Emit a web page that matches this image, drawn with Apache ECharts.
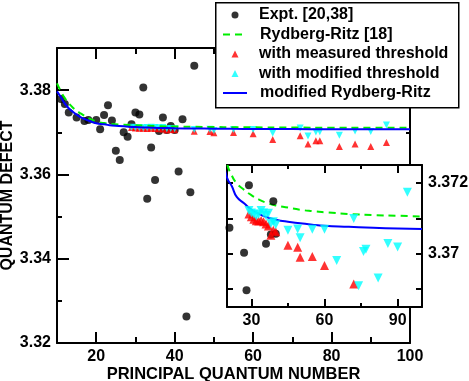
<!DOCTYPE html>
<html>
<head>
<meta charset="utf-8">
<script src="https://cdn.jsdelivr.net/npm/echarts@6/dist/echarts.min.js"></script>
<style>
  html, body { margin: 0; padding: 0; background: #fff; }
  #chart { width: 469px; height: 381px; }
</style>
</head>
<body>
<div id="chart"></div>
<script>
// experimental points
var exptN = [11, 12, 13, 15, 17, 18, 20, 21, 22, 23, 24, 25, 26, 27, 28, 29, 30, 31, 32, 33,
             34, 35, 36, 37, 38, 39, 40, 41, 42, 43, 44, 45];
var exptDefect = [3.3779, 3.3767, 3.3747, 3.3735, 3.3727, 3.3729, 3.3729, 3.37073, 3.3741, 3.3764,
                  3.3728, 3.3656, 3.3634, 3.37003, 3.36897, 3.37193, 3.3747, 3.3742, 3.3806, 3.3542,
                  3.3664, 3.3587, 3.37028, 3.3735, 3.37054, 3.37148, 3.37056, 3.3607, 3.3731, 3.3263,
                  3.3558, 3.3858];

// computed with the two thresholds
var thrN = [29, 30, 31, 32, 33, 34, 35, 36, 37, 38, 39, 40, 45, 49, 50, 55, 60, 65, 72, 74, 76, 77, 82, 86, 90, 94];
var measuredDefect = [3.37112, 3.37104, 3.37097, 3.37093, 3.37092, 3.37094, 3.37090, 3.37084, 3.37078, 3.37052,
                      3.37066, 3.37062, 3.37024, 3.37018, 3.36990, 3.36992, 3.36967, 3.3683, 3.36915, 3.3672,
                      3.3680, 3.3680, 3.3666, 3.3672, 3.3666, 3.3676];
var modifiedDefect = [3.37122, 3.37115, 3.37112, 3.37106, 3.37111, 3.37122, 3.37115, 3.37108, 3.37114, 3.37085,
                      3.37090, 3.37082, 3.37066, 3.37070, 3.37045, 3.37069, 3.37069, 3.36981, 3.37099, 3.36910,
                      3.37006, 3.37013, 3.36932, 3.37029, 3.37019, 3.37173];

// curves
var curveN = [10, 11, 12, 13, 14, 15, 16, 18, 20, 22, 24, 27, 30, 33, 36, 40, 45, 50, 55, 60, 70, 80, 90, 100];
var rydbergRitz = [3.3816, 3.3797, 3.3781, 3.3769, 3.3759, 3.3751, 3.3745, 3.3734, 3.37255, 3.3722, 3.37198, 3.37180,
                   3.37165, 3.37153, 3.37144, 3.37136, 3.37130, 3.37124, 3.37120, 3.37117, 3.37112, 3.37109, 3.37107, 3.37105];
var modifiedRR = [3.3797, 3.3783, 3.3768, 3.3757, 3.3749, 3.3742, 3.3736, 3.3728, 3.37215, 3.3719, 3.3716, 3.37142,
                  3.37124, 3.37113, 3.37104, 3.37096, 3.37090, 3.37086, 3.37082, 3.37079, 3.37076, 3.37073, 3.37071, 3.37070];

// tick positions
var mainXMajor = [20, 40, 60, 80, 100], mainXMinor = [30, 50, 70, 90];
var mainYMajor = [3.32, 3.34, 3.36, 3.38], mainYMinor = [3.33, 3.35, 3.37];
var insetXMajor = [30, 60, 90], insetXMinor = [45, 75];
var insetYTicks = [3.369, 3.370, 3.371, 3.372], insetYLabels = [3.370, 3.372];

var names = ['Expt. [20,38]', 'Rydberg-Ritz [18]', 'with measured threshold', 'with modified threshold', 'modified Rydberg-Ritz'];

var FONT = 'Liberation Sans';

function pairs(xs, ys) {
    return xs.map(function (x, i) { return [x, ys[i]]; });
}

function edge(grid, pos, min, max, ticks, len, line, labels, fmt, z) {
    return {
        type: 'value', gridIndex: grid, position: pos, min: min, max: max, z: z || 0,
        splitLine: { show: false },
        axisLine: { show: line, onZero: false, lineStyle: { color: '#000', width: 2 } },
        axisTick: { show: true, inside: true, length: len, customValues: ticks, lineStyle: { color: '#000', width: 2 } },
        axisLabel: labels ? {
            show: true, customValues: labels, formatter: fmt, color: '#000',
            fontFamily: FONT, fontWeight: 'bold', fontSize: 16, margin: 6
        } : { show: false }
    };
}

// one legend per row so line and marker icons can have their own sizes
function legendRow(i, isLine) {
    var centre = 15 + i * 19.5;
    return {
        orient: 'vertical', top: centre - 9, padding: 0, z: 4,
        itemHeight: isLine ? 8 : 7, itemWidth: isLine ? 24 : 7,
        left: isLine ? 222 : 231.5,
        textStyle: { fontFamily: FONT, fontWeight: 'bold', fontSize: 16, color: '#000', lineHeight: 18,
                     padding: [0, 0, 0, isLine ? 8 : 15.5] },
        data: [isLine ? { name: names[i], itemStyle: { opacity: 0 } } : names[i]]
    };
}

var chart = echarts.init(document.getElementById('chart'));

var xMain = edge(0, 'bottom', 10, 100, mainXMajor, 11, true, mainXMajor, function (v) { return String(v); });
xMain.name = 'PRINCIPAL QUANTUM NUMBER';
xMain.nameLocation = 'middle';
xMain.nameGap = 23;
xMain.nameMoveOverlap = false;
xMain.nameTextStyle = { fontFamily: FONT, fontWeight: 'bold', fontSize: 16.5, color: '#000' };

var yMain = edge(0, 'left', 3.32, 3.39, mainYMajor, 12, true, mainYMajor, function (v) { return v.toFixed(2); });
yMain.name = 'QUANTUM DEFECT';
yMain.nameLocation = 'middle';
yMain.nameGap = 41;
yMain.nameMoveOverlap = false;
yMain.nameTextStyle = { fontFamily: FONT, fontWeight: 'bold', fontSize: 16, color: '#000' };

var insetFmt = function (v) { return String(+v.toFixed(3)); };

var dotStyle = { color: '#000' };
var redStyle = { color: '#ff0000' };
var cyanStyle = { color: '#00ffff' };
var greenLine = { color: '#00ee00', width: 2, type: [7, 5] };
var blueLine = { color: '#0000ff', width: 2 };

chart.setOption({
    animation: false,
    backgroundColor: '#fff',
    grid: [
        { left: 57, top: 48, width: 353, height: 295, outerBoundsMode: 'none' },
        { left: 227, top: 165, width: 195, height: 142, outerBoundsMode: 'none',
          show: true, backgroundColor: '#fff', borderWidth: 0, z: 5 }
    ],
    graphic: [{
        type: 'rect', left: 215, top: 2, z: 3,
        shape: { width: 243, height: 105 },
        style: { fill: '#fff', stroke: '#000', lineWidth: 1.5 }
    }],
    legend: [
        legendRow(0, false),
        legendRow(1, true),
        legendRow(2, false),
        legendRow(3, false),
        legendRow(4, true)
    ],
    xAxis: [
        xMain,
        edge(0, 'bottom', 10, 100, mainXMinor, 6, false),
        edge(0, 'top', 10, 100, mainXMajor, 11, true),
        edge(0, 'top', 10, 100, mainXMinor, 6, false),
        edge(1, 'bottom', 20, 100, insetXMajor, 8, true, insetXMajor, function (v) { return String(v); }, 6),
        edge(1, 'bottom', 20, 100, insetXMinor, 4, false, null, null, 6),
        edge(1, 'top', 20, 100, insetXMajor, 8, true, null, null, 6),
        edge(1, 'top', 20, 100, insetXMinor, 4, false, null, null, 6)
    ],
    yAxis: [
        yMain,
        edge(0, 'left', 3.32, 3.39, mainYMinor, 5, false),
        edge(0, 'right', 3.32, 3.39, mainYMajor, 12, true),
        edge(0, 'right', 3.32, 3.39, mainYMinor, 4, false),
        edge(1, 'right', 3.3685, 3.3725, insetYTicks, 6, true, insetYLabels, insetFmt, 6),
        edge(1, 'left', 3.3685, 3.3725, insetYTicks, 6, true, null, null, 6)
    ],
    series: [
        { name: names[0], type: 'scatter', xAxisIndex: 0, yAxisIndex: 0, symbol: 'circle', symbolSize: 8,
          itemStyle: dotStyle, data: pairs(exptN, exptDefect) },
        { name: names[2], type: 'scatter', xAxisIndex: 0, yAxisIndex: 0, symbol: 'triangle', symbolSize: 7,
          itemStyle: redStyle, data: pairs(thrN, measuredDefect) },
        { name: names[3], type: 'scatter', xAxisIndex: 0, yAxisIndex: 0, symbol: 'triangle', symbolRotate: 180,
          symbolSize: 7, itemStyle: cyanStyle, data: pairs(thrN, modifiedDefect) },
        { name: names[1], type: 'line', xAxisIndex: 0, yAxisIndex: 0, smooth: true, symbol: 'none',
          lineStyle: greenLine, itemStyle: { color: '#00ee00' }, data: pairs(curveN, rydbergRitz) },
        { name: names[4], type: 'line', xAxisIndex: 0, yAxisIndex: 0, smooth: true, symbol: 'none',
          lineStyle: blueLine, itemStyle: { color: '#0000ff' }, data: pairs(curveN, modifiedRR) },

        // inset
        { name: names[0], type: 'scatter', xAxisIndex: 4, yAxisIndex: 4, z: 7, symbol: 'circle', symbolSize: 8,
          itemStyle: dotStyle, data: pairs(exptN, exptDefect) },
        { name: names[2], type: 'scatter', xAxisIndex: 4, yAxisIndex: 4, z: 7, symbol: 'triangle', symbolSize: 9,
          itemStyle: redStyle, data: pairs(thrN, measuredDefect) },
        { name: names[3], type: 'scatter', xAxisIndex: 4, yAxisIndex: 4, z: 7, symbol: 'triangle', symbolRotate: 180,
          symbolSize: 9, itemStyle: cyanStyle, data: pairs(thrN, modifiedDefect) },
        { name: names[1], type: 'line', xAxisIndex: 4, yAxisIndex: 4, z: 7, smooth: true, symbol: 'none',
          lineStyle: greenLine, itemStyle: { color: '#00ee00' }, data: pairs(curveN, rydbergRitz) },
        { name: names[4], type: 'line', xAxisIndex: 4, yAxisIndex: 4, z: 7, smooth: true, symbol: 'none',
          lineStyle: blueLine, itemStyle: { color: '#0000ff' }, data: pairs(curveN, modifiedRR) }
    ]
});
</script>
</body>
</html>
